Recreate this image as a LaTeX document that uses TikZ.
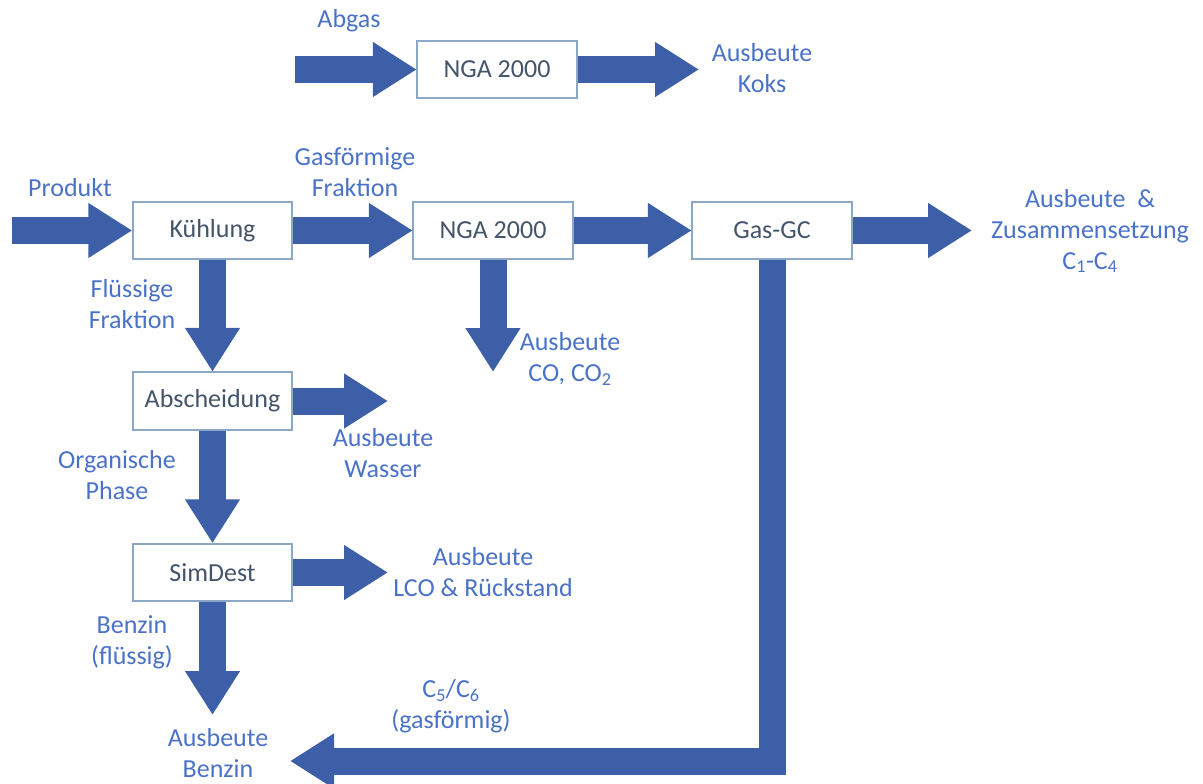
\documentclass[tikz,border=0pt]{standalone}
\usepackage{fontspec}
\setmainfont{Carlito}
\usetikzlibrary{arrows.meta}
\definecolor{arrowblue}{HTML}{3C5FA8}
\definecolor{boxline}{HTML}{8DA7C6}
\definecolor{boxtext}{HTML}{44546A}
\definecolor{labelblue}{HTML}{4A72C8}
\tikzset{
  procbox/.style={draw=boxline, line width=1.4pt, fill=white, minimum width=159pt, minimum height=57pt, inner sep=0pt, text=boxtext, font=\fontsize{26}{31}\selectfont},
  lbl/.style={text=labelblue, align=center, inner sep=0pt, font=\fontsize{26}{31}\selectfont},
  fat/.style={draw=arrowblue, line width=27pt, line join=miter, -{Triangle[width=52pt,length=44pt]}}
}
\begin{document}
\begin{tikzpicture}[x=1pt,y=-1pt]
\useasboundingbox (0,0) rectangle (1203,784);
% boxes
\node[procbox] (ngatop) at (497,69.5) {NGA 2000};
\node[procbox] (kuehl) at (212.5,230.5) {Kühlung};
\node[procbox] (ngamid) at (493,230.5) {NGA 2000};
\node[procbox] (gasgc) at (772,230.5) {Gas-GC};
\node[procbox] (absch) at (212.5,401) {Abscheidung};
\node[procbox] (simdest) at (212.5,572.5) {SimDest};
% free ends
\coordinate (abgasin) at (295,69.5);
\coordinate (koksout) at (699,69.5);
\coordinate (prodin) at (12,230.5);
\coordinate (c14out) at (972,230.5);
\coordinate (coout) at (493,372);
\coordinate (wasserout) at (388,401);
\coordinate (lcoout) at (388,572.5);
\coordinate (benzinout) at (212.5,715);
\coordinate (c56out) at (290,761);
% connectors
\draw[fat] (abgasin) -- (ngatop.west);
\draw[fat] (ngatop.east) -- (koksout);
\draw[fat] (prodin) -- (kuehl.west);
\draw[fat] (kuehl.east) -- (ngamid.west);
\draw[fat] (ngamid.east) -- (gasgc.west);
\draw[fat] (gasgc.east) -- (c14out);
\draw[fat] (kuehl.south) -- (absch.north);
\draw[fat] (ngamid.south) -- (coout);
\draw[fat] (absch.east) -- (wasserout);
\draw[fat] (absch.south) -- (simdest.north);
\draw[fat] (simdest.east) -- (lcoout);
\draw[fat] (simdest.south) -- (benzinout);
\draw[fat] (gasgc.south) |- (c56out);
% redraw box borders on top
\foreach \b in {ngatop,kuehl,ngamid,gasgc,absch,simdest}{
  \draw[boxline, line width=1.4pt] (\b.north west) rectangle (\b.south east);
}
% labels
\node[lbl] (tabgas) at (349,21) {Abgas};
\node[lbl] (tkoks) at (762,68) {Ausbeute\\Koks};
\node[lbl] (tprod) at (70,188) {Produkt};
\node[lbl] (tgasf) at (355,172) {Gasförmige\\Fraktion};
\node[lbl] (tc14) at (1090,231) {Ausbeute~ \&\\Zusammensetzung\\C\textsubscript{1}-C\textsubscript{4}};
\node[lbl] (tfl) at (132,304) {Flüssige\\Fraktion};
\node[lbl] (tco) at (570,359) {Ausbeute\\CO, CO\textsubscript{2}};
\node[lbl] (twasser) at (383,453) {Ausbeute\\Wasser};
\node[lbl] (torg) at (117,475) {Organische\\Phase};
\node[lbl] (tlco) at (483,572) {Ausbeute\\LCO \& Rückstand};
\node[lbl] (tbenzfl) at (132,642) {Benzin\\(flüssig)};
\node[lbl] (tc56) at (451,706) {C\textsubscript{5}/C\textsubscript{6}\\(gasförmig)};
\node[lbl] (tbenz) at (218,753) {Ausbeute\\Benzin};
\end{tikzpicture}
\end{document}
